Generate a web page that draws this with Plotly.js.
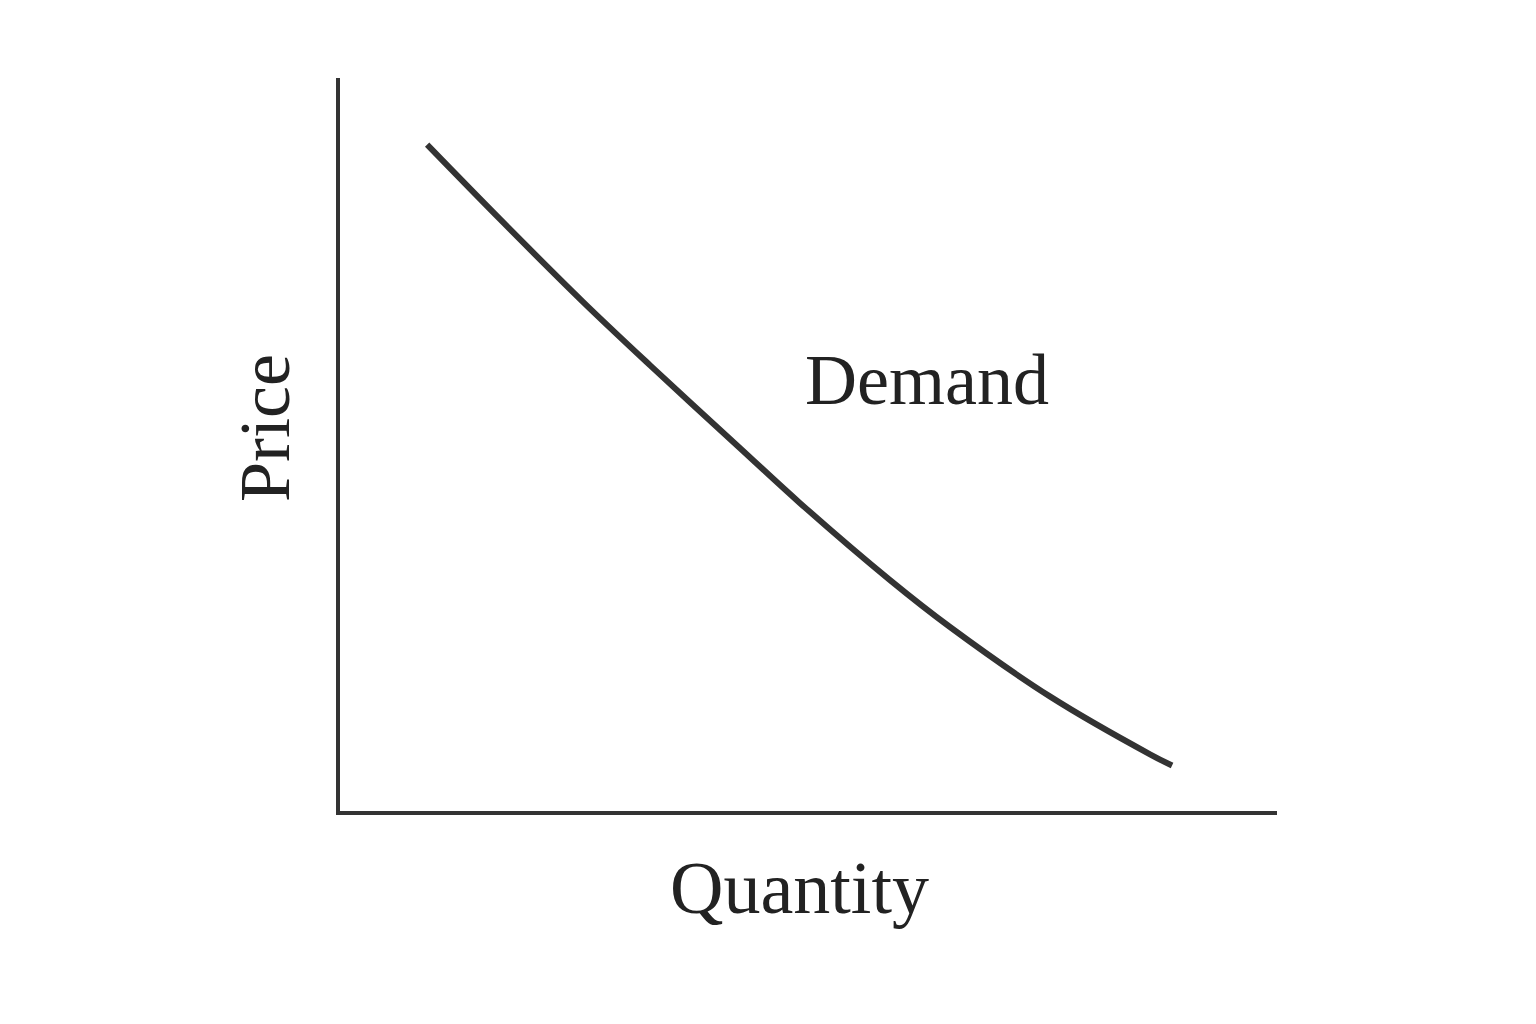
<!DOCTYPE html>
<html>
<head>
<meta charset="utf-8">
<script src="https://cdn.plot.ly/plotly-3.0.1.min.js"></script>
<style>html,body{margin:0;padding:0;background:#fff;}</style>
</head>
<body>
<div id="chart" style="width:1536px;height:1024px;"></div>
<script>
// Demand curve points (quantity, price) on a 0-10 scale
const quantity = [0.93, 1.71, 2.59, 3.31, 4.27, 4.91, 5.87, 6.51, 7.58, 8.65, 8.88];
const price    = [9.09, 8.07, 6.95, 6.08, 4.95, 4.20, 3.15, 2.51, 1.56, 0.77, 0.62];
const curveLabel = "Demand";
const xTitle = "Quantity";
const yTitle = "Price";

const serif = "Liberation Serif, DejaVu Serif, serif";
const ink = "#333333";

const data = [{
  x: quantity, y: price, type: "scatter", mode: "lines",
  line: {color: ink, width: 6, shape: "spline", smoothing: 1},
  hoverinfo: "skip", showlegend: false
}];

const layout = {
  width: 1536, height: 1024,
  margin: {l: 340, r: 259, t: 78, b: 213},
  paper_bgcolor: "#ffffff", plot_bgcolor: "#ffffff",
  showlegend: false,
  xaxis: {range: [0, 10], showline: true, linewidth: 4, linecolor: ink, showgrid: false,
          zeroline: false, showticklabels: false, ticks: "", fixedrange: true},
  yaxis: {range: [0, 10], showline: true, linewidth: 4, linecolor: ink, showgrid: false,
          zeroline: false, showticklabels: false, ticks: "", fixedrange: true},
  annotations: [
    {text: curveLabel, xref: "x", yref: "y", x: 6.265, y: 5.88, showarrow: false,
     xanchor: "center", yanchor: "middle", font: {family: serif, size: 72, color: "#222"}},
    {text: xTitle, xref: "paper", yref: "paper", x: 0.49, y: -0.105, showarrow: false,
     xanchor: "center", yanchor: "middle", font: {family: serif, size: 74, color: "#222"}},
    {text: yTitle, xref: "paper", yref: "paper", x: -0.080, y: 0.5225, showarrow: false,
     textangle: -90, xanchor: "center", yanchor: "middle", font: {family: serif, size: 72, color: "#222"}}
  ]
};

Plotly.newPlot("chart", data, layout, {displayModeBar: false, staticPlot: true});
</script>
</body>
</html>
